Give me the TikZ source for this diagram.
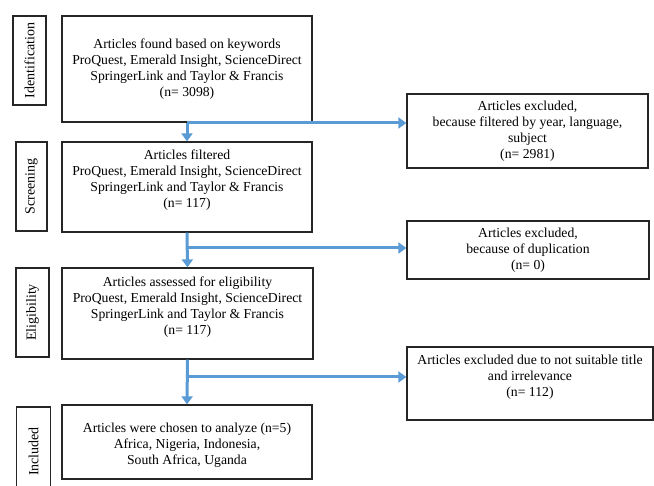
\documentclass[tikz,border=0pt]{standalone}
\usepackage{fontspec}
\setmainfont{Liberation Serif}
\usetikzlibrary{arrows.meta,calc}
\definecolor{arrblue}{RGB}{91,155,213}
\begin{document}
\begin{tikzpicture}[x=1pt,y=-1pt,
  box/.style={draw=black!85, line width=1.3pt, align=center, inner sep=0pt,
    font=\fontsize{13.7}{16}\selectfont},
  side/.style={draw=black!85, line width=1.3pt, inner sep=0pt, rotate=90,
    font=\fontsize{14}{16}\selectfont},
  arr/.style={draw=arrblue, line width=3pt, -{Triangle[width=11pt,length=8pt]}}]
\path[use as bounding box] (0,0) rectangle (654,486);
\begin{scope}
\clip (0,0) rectangle (654,486);
% side labels
\node[side, minimum width=89, minimum height=33] (sid) at (29.5,60.5) {Identification};
\node[side, minimum width=89, minimum height=31] (ssc) at (31.5,186.5) {Screening};
\node[side, minimum width=89, minimum height=33] (sel) at (32.5,312.5) {Eligibility};
\node[side, minimum width=89, minimum height=34] (sin) at (33.5,451.5) {Included};
% main boxes
\node[box, minimum width=250, minimum height=106] (b1) at (187,69)
  {Articles found based on keywords\\ProQuest, Emerald Insight, ScienceDirect\\SpringerLink and Taylor \& Francis\\(n= 3098)};
\node[box, minimum width=250, minimum height=90] (b2) at (187,187)
  {Articles filtered\\ProQuest, Emerald Insight, ScienceDirect\\SpringerLink and Taylor \& Francis\\(n= 117)\\\mbox{}};
\node[box, minimum width=251, minimum height=91] (b3) at (187.5,313.5)
  {Articles assessed for eligibility\\ProQuest, Emerald Insight, ScienceDirect\\SpringerLink and Taylor \& Francis\\(n= 117)\\\mbox{}};
\node[box, minimum width=250, minimum height=74] (b4) at (187,442)
  {\mbox{}\\Articles were chosen to analyze (n=5)\\Africa, Nigeria, Indonesia,\\South Africa, Uganda};
% right boxes
\node[box, minimum width=241, minimum height=74] (r1) at (527.5,131)
  {Articles excluded,\\because filtered by year, language,\\subject\\(n= 2981)};
\node[box, minimum width=242, minimum height=58] (r2) at (528,250)
  {Articles excluded,\\because of duplication\\(n= 0)};
\node[box, minimum width=246, minimum height=73] (r3) at (530,383.5)
  {Articles excluded due to not suitable title\\and irrelevance\\(n= 112)\\\mbox{}};
% junctions
\coordinate (j1) at (187,123);
\coordinate (j2) at (187,248);
\coordinate (j3) at (187,377);
% connectors
\draw[arr] (b1.south) -- (b2.north);
\draw[arr] (j1) -- (j1 -| r1.west);
\draw[arr] (b2.south) -- (b3.north);
\draw[arr] (j2) -- (j2 -| r2.west);
\draw[arr] (b3.south) -- (b4.north);
\draw[arr] (j3) -- (j3 -| r3.west);
\end{scope}
\end{tikzpicture}
\end{document}
